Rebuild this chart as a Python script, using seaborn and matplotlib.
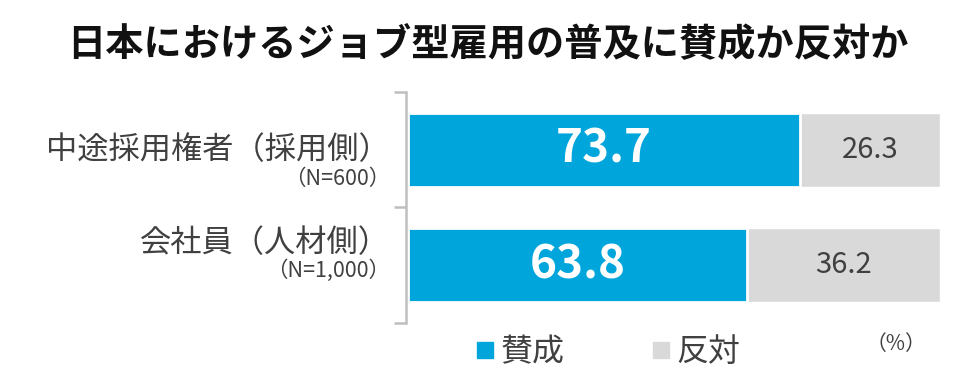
import matplotlib
matplotlib.use("Agg")
import matplotlib.pyplot as plt
import matplotlib.transforms as mtransforms
from matplotlib.lines import Line2D
import pandas as pd
import seaborn as sns

# data
groups = ["中途採用権者（採用側）", "会社員（人材側）"]
sample_sizes = ["（N=600）", "（N=1,000）"]
agree = [73.7, 63.8]
disagree = [26.3, 36.2]
series_names = ["賛成", "反対"]

BLUE = "#00A6DB"
GRAY = "#D9D9D9"

sns.set_theme(style="white")
plt.rcParams["font.family"] = ["Noto Sans CJK JP", "DejaVu Sans"]

df = pd.DataFrame({"group": groups, "agree": agree, "disagree": disagree})
df["total"] = df["agree"] + df["disagree"]

fig = plt.figure(figsize=(9.75, 3.84), dpi=100)
ax = fig.add_axes([0.4165, 0.159, 0.5476, 0.6016])

# gray = full bar, blue drawn over it
sns.barplot(data=df, y="group", x="total", color=GRAY, width=0.64,
            saturation=1, orient="h", ax=ax)
sns.barplot(data=df, y="group", x="agree", color=BLUE, width=0.64,
            saturation=1, orient="h", ax=ax, edgecolor="white", linewidth=2)

ax.set_xlim(-0.3, 100)
ax.set_ylim(1.5, -0.5)
ax.set_xlabel("")
ax.set_ylabel("")
ax.set_xticks([])
ax.set_yticks([-0.5, 0.5, 1.5])
ax.set_yticklabels([])
ax.tick_params(axis="y", left=True, length=9, width=1.8, color="#BFBFBF")
for s in ["top", "right", "bottom"]:
    ax.spines[s].set_visible(False)
ax.spines["left"].set_color("#BFBFBF")
ax.spines["left"].set_linewidth(1.8)
ax.spines["left"].set_position(("data", -0.3))

# value labels
for i, (a, d) in enumerate(zip(agree, disagree)):
    ax.text(a / 2, i, f"{a:.1f}", ha="center", va="center", color="white",
            fontsize=33, fontweight="bold")
    ax.text(a + d / 2, i, f"{d:.1f}", ha="center", va="center",
            color="#404040", fontsize=21)

# category labels
trans = mtransforms.blended_transform_factory(ax.transAxes, ax.transData)
main_offset = [0.0, -0.19]
sub_offset = [0.25, 0.05]
for i, (g, n) in enumerate(zip(groups, sample_sizes)):
    ax.text(-0.03, i + main_offset[i], g, transform=trans, ha="right",
            va="center", fontsize=22.5, color="#404040")
    ax.text(-0.03, i + sub_offset[i], n, transform=trans, ha="right",
            va="center", fontsize=15.5, color="#404040")

fig.text(0.5, 0.885, "日本におけるジョブ型雇用の普及に賛成か反対か",
         ha="center", va="center", fontsize=27.5, fontweight="bold", color="#111111")

handles = [Line2D([], [], marker="s", linestyle="", markersize=11,
                  markerfacecolor=c, markeredgecolor=c) for c in [BLUE, GRAY]]
fig.legend(handles, series_names, loc="center", bbox_to_anchor=(0.622, 0.083),
           ncol=2, frameon=False, fontsize=23, handletextpad=0.1,
           columnspacing=2.6, handlelength=0.8, labelcolor="#404040")
fig.text(0.919, 0.105, "（%）", ha="center", va="center", fontsize=15, color="#404040")

fig.savefig("out.png", dpi=100)
